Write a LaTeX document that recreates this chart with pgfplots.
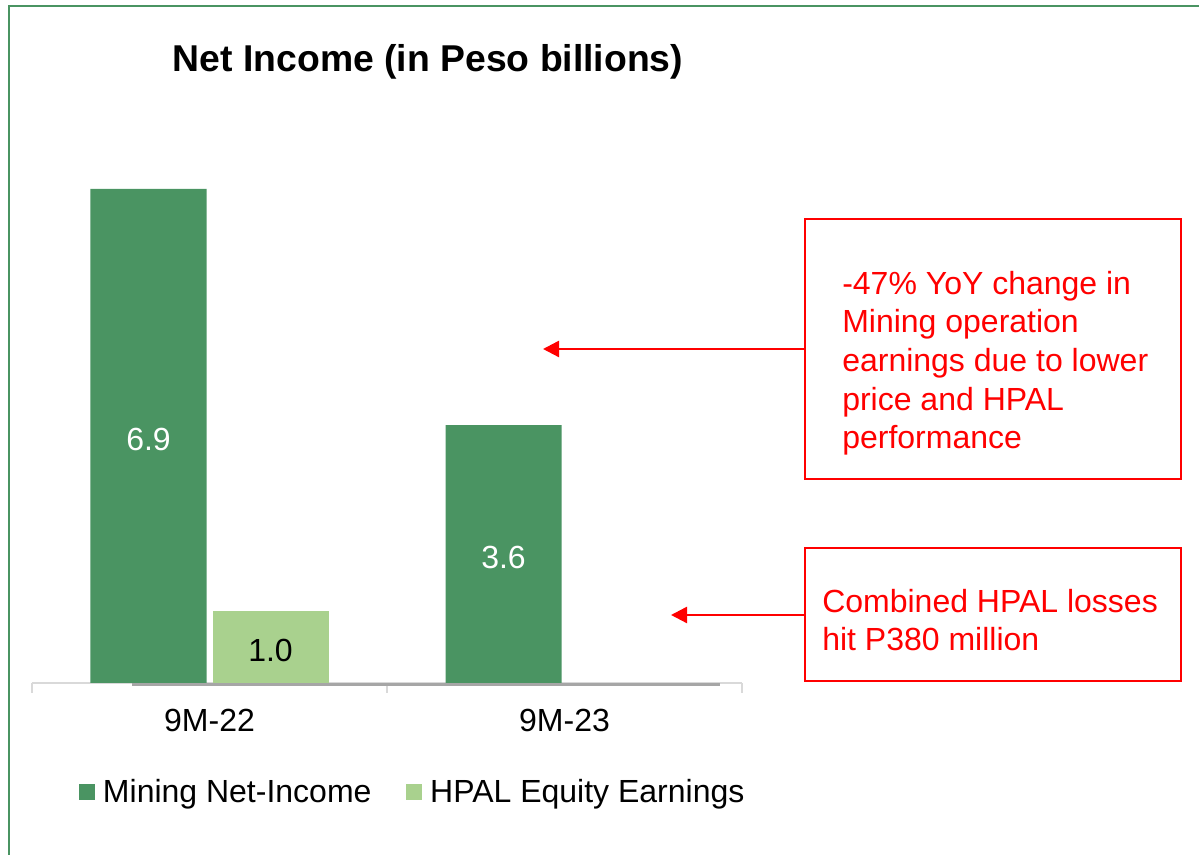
\documentclass[border=0pt]{standalone}
\usepackage{pgfplots}
\pgfplotsset{compat=1.18}
\usepackage{fontspec}
\setmainfont{Liberation Sans}
\usetikzlibrary{arrows.meta}
\definecolor{mgreen}{HTML}{4A9462}
\definecolor{lgreen}{HTML}{A9D18E}
\definecolor{axgray}{HTML}{D9D9D9}
\definecolor{dgray}{HTML}{A6A6A6}
\definecolor{ared}{HTML}{FF0000}
\pgfplotsset{sqlegend/.style={legend image code/.code={\fill[##1,draw=none] (0pt,-6pt) rectangle (12pt,6pt);}}}
\begin{document}
\begin{tikzpicture}[x=0.75pt,y=0.75pt, font=\fontsize{24}{28.9}\selectfont]
\path[use as bounding box] (0,0) rectangle (1199,855);
\draw[mgreen, line width=1.5pt] (9,-20) -- (9,849) -- (1220,849);
\node[anchor=base, font=\fontsize{28}{33}\selectfont\bfseries] at (428,783) {Net Income (in Peso billions)};
\begin{axis}[at={(24pt,129pt)}, anchor=south west, scale only axis,
  width=532.5pt, height=402.75pt,
  xmin=-0.5, xmax=1.5, ymin=0, ymax=7.5,
  axis y line=none, axis x line*=bottom,
  x axis line style={axgray, line width=1.5pt},
  xtick={0,1}, xticklabels={9M-22,9M-23},
  major tick length=0pt,
  minor xtick={-0.5,0.5,1.5}, minor tick length=7.5pt, tick align=outside,
  minor tick style={axgray, line width=1.5pt},
  xticklabel style={anchor=base, yshift=-36.75pt, font=\fontsize{24}{28.9}\selectfont},
  clip=false,
  legend columns=2,
  legend cell align=left,
  legend style={at={(0.0662,-0.203)}, anchor=west, draw=none, fill=none,
    inner sep=0pt, outer sep=0pt, nodes={inner sep=0pt},
    font=\fontsize{24}{28.9}\selectfont,
    /tikz/every odd column/.append style={column sep=6pt},
    /tikz/every even column/.append style={column sep=26pt}},
  /pgf/number format/.cd, fixed, fixed zerofill, precision=1, assume math mode=true
]
\addplot[ybar, bar width=87pt, bar shift=-45.75pt, fill=mgreen, draw=none, sqlegend,
  nodes near coords,
  visualization depends on={y \as \rawy},
  every node near coord/.append style={white, anchor=center, font=\fontsize{24}{28.9}\selectfont,
    xshift=-45.75pt, yshift=-2.5pt, shift={(axis direction cs:0,-\rawy/2)}}]
  coordinates {(0,6.9) (1,3.6)};
\addlegendentry{Mining Net-Income}
\addplot[ybar, bar width=87pt, bar shift=45.75pt, fill=lgreen, draw=none, sqlegend,
  nodes near coords,
  visualization depends on={y \as \rawy},
  every node near coord/.append style={black, anchor=center, font=\fontsize{24}{28.9}\selectfont,
    xshift=45.75pt, yshift=-2.5pt, shift={(axis direction cs:0,-\rawy/2)}}]
  coordinates {(0,1.0)};
\addlegendentry{HPAL Equity Earnings}
\addplot[dgray, line width=2.25pt, forget plot] coordinates {(-0.218,-0.022) (1.438,-0.022)};
\end{axis}
\draw[ared, line width=1.8pt] (805,636) rectangle (1181,376);
\node[anchor=north west, inner sep=0pt, align=left, text=ared] at (842,584)
  {-47\% YoY change in\\Mining operation\\earnings due to lower\\price and HPAL\\performance};
\draw[ared, line width=1.8pt] (805,307) rectangle (1181,174);
\node[anchor=north west, inner sep=0pt, align=left, text=ared] at (822,266)
  {Combined HPAL losses\\hit P380 million};
\draw[ared, line width=1.8pt, -{Triangle[length=12pt,width=12pt]}] (805,506) -- (543,506);
\draw[ared, line width=1.8pt, -{Triangle[length=12pt,width=12pt]}] (805,240) -- (671,240);
\end{tikzpicture}
\end{document}
